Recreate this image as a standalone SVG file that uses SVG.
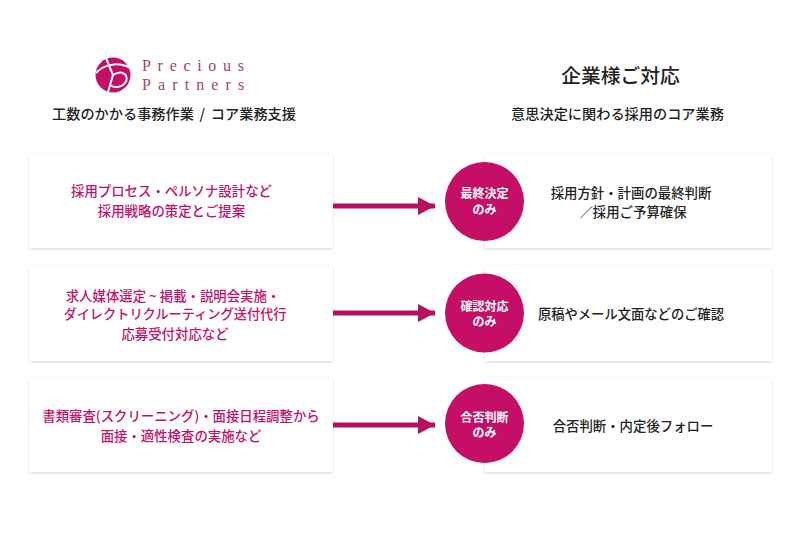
<svg xmlns="http://www.w3.org/2000/svg" width="800" height="533" viewBox="0 0 800 533">
<defs>
<filter id="sh" x="-5%" y="-10%" width="110%" height="120%"><feDropShadow dx="0" dy="1" stdDeviation="1.6" flood-color="#000" flood-opacity="0.17"/></filter>
<marker id="ah" markerUnits="userSpaceOnUse" markerWidth="17" markerHeight="18" refX="17" refY="9" orient="auto"><path d="M0 0L17 9L0 18Z" fill="#b90e62"/></marker>
</defs>
<style>
text{font-family:"Noto Sans CJK JP","Liberation Sans",sans-serif;text-anchor:middle}
.box{fill:#fff;filter:url(#sh)}
.m{fill:#c2126c;font-size:13.400px;font-weight:500}
.k{fill:#222;font-size:13.400px;font-weight:500}
.h{fill:#222;font-size:14.200px;font-weight:500}
.c{fill:#c50f66}
.w{fill:#fff;font-size:12px;font-weight:700}
.ln{stroke:#b90e62;stroke-width:5;fill:none;marker-end:url(#ah)}
.lg{text-anchor:start;font-family:"Liberation Serif",serif;font-size:16px;fill:#a5436f}
</style>
<rect width="800" height="533" fill="#fff"/>
<g id="logo">
<circle cx="113" cy="75" r="17.500" fill="#c50f66"/>
<path d="M96 73C103 65 118 61 130 68M106 58L113 75L108 92M113 75C123 69 130 76 125 83C121 88 114 88 110 85" fill="none" stroke="#fff" stroke-width="2"/>
<text class="lg" x="142" y="71" letter-spacing="6.700">Precious</text>
<text class="lg" x="142" y="89.500" letter-spacing="7.100">Partners</text>
</g>
<g id="head-left"><text class="h" x="174" y="118.500" word-spacing="2.500">工数のかかる事務作業 / コア業務支援</text></g>
<g id="head-right"><text x="620.500" y="83" style="fill:#222;font-size:19.800px;font-weight:500">企業様ご対応</text><text class="h" x="617.500" y="118.500">意思決定に関わる採用のコア業務</text></g>
<g id="left-1"><rect class="box" x="29.500" y="154" width="303" height="94"/><text class="m" x="171.500" y="196">採用プロセス・ペルソナ設計など</text><text class="m" x="171.500" y="216">採用戦略の策定とご提案</text></g>
<g id="left-2"><rect class="box" x="29.500" y="266.500" width="303" height="94.500"/><text class="m" x="173" y="300.500">求人媒体選定 ~ 掲載・説明会実施・</text><text class="m" x="175" y="319" style="font-size:13.200px">ダイレクトリクルーティング送付代行</text><text class="m" x="175" y="339">応募受付対応など</text></g>
<g id="left-3"><rect class="box" x="29.500" y="378.500" width="303" height="93.500"/><text class="m" x="181" y="420.500">書類審査(スクリーニング)・面接日程調整から</text><text class="m" x="181" y="441">面接・適性検査の実施など</text></g>
<g id="right-1"><rect class="box" x="485" y="154" width="286.500" height="94"/><text class="k" x="631" y="197.500">採用方針・計画の最終判断</text><text class="k" x="633" y="216.500">／採用ご予算確保</text></g>
<g id="right-2"><rect class="box" x="485" y="266.500" width="286.500" height="94.500"/><text class="k" x="631" y="319" style="font-size:13.300px">原稿やメール文面などのご確認</text></g>
<g id="right-3"><rect class="box" x="485" y="378.500" width="286.500" height="93.500"/><text class="k" x="633" y="430.500">合否判断・内定後フォロー</text></g>
<g id="connectors">
<path class="ln" d="M333 206H435"/><path class="ln" d="M333 313H435"/><path class="ln" d="M333 425H435"/>
</g>
<g id="badge-1"><circle class="c" cx="484.500" cy="201.500" r="39.500"/><text class="w" x="484.500" y="197.500">最終決定</text><text class="w" x="484.500" y="214">のみ</text></g>
<g id="badge-2"><circle class="c" cx="484.500" cy="313" r="39.500"/><text class="w" x="484.500" y="310.500">確認対応</text><text class="w" x="484.500" y="326">のみ</text></g>
<g id="badge-3"><circle class="c" cx="484.500" cy="423.500" r="39.500"/><text class="w" x="484.500" y="421.500">合否判断</text><text class="w" x="484.500" y="437">のみ</text></g>
</svg>
